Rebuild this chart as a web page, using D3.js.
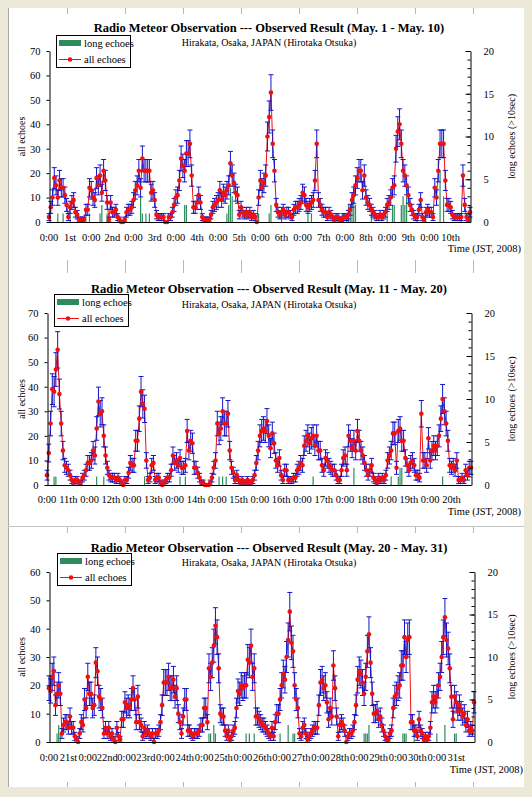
<!DOCTYPE html>
<html>
<head>
<meta charset="utf-8">
<script src="https://cdn.jsdelivr.net/npm/d3@7"></script>
<style>
  body { margin: 0; background: #ECE9D8; }
  svg { display: block; }
</style>
</head>
<body>
<script>
//==================================================================//
//  DATA (hourly counts)
//==================================================================//

var titleP1 = "Radio Meteor Observation --- Observed Result (May. 1 - May. 10)";
var titleP2 = "Radio Meteor Observation --- Observed Result (May. 11 - May. 20)";
var titleP3 = "Radio Meteor Observation --- Observed Result (May. 20 - May. 31)";
var subTitle = "Hirakata, Osaka, JAPAN (Hirotaka Otsuka)";

var daysP1 = ["1st","2nd","3rd","4th","5th","6th","7th","8th","9th","10th"];
var daysP2 = ["11th","12th","13th","14th","15th","16th","17th","18th","19th","20th"];
var daysP3 = ["21st","22nd","23rd","24th","25th","26th","27th","28th","29th","30th","31st"];

// all echoes, one value per hour
var allP1 = [
  2,6,10,18,15,10,17,14,14,11,7,2,6,8,9,4,3,1,1,1,1,5,5,14,
  13,10,9,18,15,19,12,21,17,8,1,8,4,4,5,2,1,0,0,1,4,5,5,6,
  9,13,15,21,14,26,21,21,21,21,12,13,9,3,2,2,2,2,0,0,2,2,4,7,
  10,11,17,26,23,21,28,28,32,19,6,6,8,11,8,2,1,1,1,1,3,6,7,8,
  9,13,9,12,11,13,15,24,19,16,12,11,3,6,4,3,4,3,4,2,3,2,0,10,
  17,14,16,19,35,43,53,32,21,7,4,3,4,5,3,4,4,3,2,5,6,6,7,8,
  12,11,7,6,7,8,9,17,32,9,7,5,4,4,2,4,3,2,1,2,2,1,1,2,
  2,2,3,5,9,11,15,18,21,21,13,19,10,8,7,5,4,3,2,2,3,2,3,4,
  7,8,10,14,15,30,37,40,32,21,19,15,11,7,5,3,2,2,5,9,2,1,4,5,
  4,4,2,14,10,21,32,32,32,17,7,7,6,3,2,2,2,2,2,19,7,2,1,4
];
var allP2 = [
  4,13,25,39,38,47,55,37,25,14,8,7,6,4,2,1,2,2,1,1,3,4,6,9,
  9,10,14,12,23,34,29,30,20,12,7,4,3,3,3,2,3,2,1,0,2,2,5,9,
  8,8,18,18,27,38,33,31,10,2,3,8,9,2,3,3,1,0,1,2,3,3,6,12,
  9,10,8,11,7,7,8,22,14,18,17,7,7,5,3,1,1,0,0,0,1,3,7,10,
  25,21,23,30,25,25,29,14,7,5,2,4,2,1,2,1,1,2,1,1,2,4,9,14,
  20,22,23,22,26,20,15,21,17,10,8,11,4,2,6,6,2,2,2,3,3,6,7,9,
  8,16,18,20,17,19,20,16,20,14,14,8,6,11,10,8,7,6,6,4,2,2,6,11,
  12,6,20,18,15,18,14,22,18,14,12,9,6,4,6,8,3,2,1,3,2,3,2,4,
  10,12,14,21,21,7,22,23,18,18,11,8,6,9,10,8,4,4,3,29,10,10,8,19,
  10,14,16,14,16,20,27,35,30,25,18,8,7,8,6,10,2,2,3,2,6,4,7,7
];
var allP3 = [
  19,18,23,25,13,17,20,17,3,6,7,7,5,9,5,5,2,1,0,3,7,6,15,12,
  23,17,17,12,13,28,25,16,15,12,3,5,3,5,2,3,1,0,5,2,1,8,8,14,
  12,13,12,15,19,15,7,16,7,6,2,5,3,4,3,2,3,0,3,3,4,7,13,21,
  21,21,23,19,19,22,16,19,10,7,3,9,15,15,4,4,3,2,3,3,3,4,6,6,
  12,12,7,26,23,28,34,41,37,26,10,9,9,4,2,4,1,2,4,5,12,18,17,20,
  19,20,20,29,28,34,23,26,9,9,8,7,6,6,5,4,3,2,5,2,7,10,10,15,
  20,24,22,30,36,46,35,32,20,15,12,3,2,5,6,3,1,2,3,4,5,5,5,13,
  21,22,19,20,14,8,12,9,27,19,9,2,6,7,6,4,0,2,3,3,4,7,13,22,
  25,24,21,17,23,32,38,28,17,10,10,11,8,9,6,4,2,1,1,3,4,12,16,17,
  19,20,27,27,37,30,36,37,7,7,4,4,2,8,4,3,1,2,1,2,5,14,16,14,
  16,20,23,30,37,44,36,33,26,16,8,16,14,11,13,11,9,10,6,8,4,5,4,14
];

// long echoes (>10sec): hour index and count, zero elsewhere
var longHoursP1 = [5,8,12,23,29,30,33,52,53,55,57,77,78,101,102,103,104,119,125,126,132,147,149,167,169,170,171,172,173,174,183,192,195,196,200,201,202,203,209,222,224,234,238,239];
var longCountsP1 = [1,1,1,1,1,2,1,3,1,1,1,2,2,1,2,4,3,1,1,2,1,1,1,1,1,2,1,3,4,2,1,1,2,2,2,3,2,3,1,6,3,1,1,2];
var longHoursP2 = [4,5,28,32,55,75,78,97,99,101,150,173,194,198,199,200,223];
var longCountsP2 = [1,1,1,1,1,1,1,1,1,1,1,2,1,1,2,2,1];
var longHoursP3 = [5,6,7,99,100,102,103,122,124,127,143,148,151,152,195,196,197,198,219,220,221,226,240,245,251,252];
var longCountsP3 = [1,2,1,1,1,2,1,1,1,1,1,2,1,1,1,1,1,2,1,1,1,2,1,2,1,1];

//==================================================================//
//  PAGE
//==================================================================//

var serif = "'Liberation Serif','Times New Roman',serif";
var RED = "#ee1111", BLUE = "#1414c8", GREEN = "#2e8b5c";

var svg = d3.select("body").append("svg")
    .attr("width", 532)
    .attr("height", 797);

// white sheet on the grey-beige window
svg.append("rect").attr("x", 8).attr("y", 8).attr("width", 516).attr("height", 779).attr("fill", "#fff");
svg.append("line").attr("x1", 8.5).attr("x2", 8.5).attr("y1", 8).attr("y2", 787).attr("stroke", "#a8a8a8");
svg.append("line").attr("x1", 8).attr("x2", 524).attr("y1", 526.5).attr("y2", 526.5).attr("stroke", "#c4c4c4");

// little ruler marks between the pictures
var rulerX = [67,125,183,241,299,357,415,473];
[[8,14],[260,273],[527,533],[782,787]].forEach(function(r) {
    svg.selectAll(null).data(rulerX).join("line")
        .attr("x1", function(d) { return d + 0.5; })
        .attr("x2", function(d) { return d + 0.5; })
        .attr("y1", r[0]).attr("y2", r[1])
        .attr("stroke", "#b8b8b8");
});

var panels = [
    { all: allP1, lh: longHoursP1, lc: longCountsP1, days: daysP1, title: titleP1, yMax: 70,
      left: 49, right: 470, top: 51, bottom: 222, titleY: 32, subY: 46, legX: 56, legY: 35,
      xLabY: 241, timeY: 252, timeX: 521 },
    { all: allP2, lh: longHoursP2, lc: longCountsP2, days: daysP2, title: titleP2, yMax: 70,
      left: 47, right: 471, top: 313, bottom: 485, titleY: 293, subY: 308, legX: 54, legY: 294,
      xLabY: 503, timeY: 515, timeX: 521 },
    { all: allP3, lh: longHoursP3, lc: longCountsP3, days: daysP3, title: titleP3, yMax: 60,
      left: 49, right: 474, top: 572, bottom: 742, titleY: 552, subY: 566, legX: 57, legY: 553,
      xLabY: 761, timeY: 773, timeX: 523 }
];

panels.forEach(drawPanel);

//==================================================================//
//  FUNCTIONS
//==================================================================//

function drawPanel(p) {
    var n = p.all.length;
    var x = d3.scaleLinear().domain([0, n - 1]).range([p.left, p.right]);
    var yL = d3.scaleLinear().domain([0, p.yMax]).range([p.bottom, p.top]);
    var yR = d3.scaleLinear().domain([0, 20]).range([p.bottom, p.top]);
    var g = svg.append("g").attr("font-family", serif);

    // titles
    g.append("text").attr("x", 269).attr("y", p.titleY)
        .attr("text-anchor", "middle").attr("font-size", 12.5).attr("font-weight", "bold")
        .text(p.title);
    g.append("text").attr("x", 269).attr("y", p.subY)
        .attr("text-anchor", "middle").attr("font-size", 10)
        .text(subTitle);

    // long echoes (right axis)
    var longData = p.lh.map(function(h, i) { return { h: h, c: p.lc[i] }; });
    g.selectAll(null).data(longData).join("line")
        .attr("x1", function(d) { return x(d.h); })
        .attr("x2", function(d) { return x(d.h); })
        .attr("y1", yR(0))
        .attr("y2", function(d) { return yR(d.c); })
        .attr("stroke", GREEN)
        .attr("stroke-width", 1.2);

    // all echoes line
    var line = d3.line()
        .x(function(d, i) { return x(i); })
        .y(function(d) { return yL(d); });
    g.append("path").datum(p.all)
        .attr("d", line)
        .attr("fill", "none")
        .attr("stroke", RED)
        .attr("stroke-width", 1);

    // error bars, +/- sqrt(N)
    var eb = g.append("g").attr("stroke", BLUE).attr("stroke-width", 1);
    p.all.forEach(function(v, i) {
        if (v <= 0) return;
        var e = Math.sqrt(v), cx = x(i);
        eb.append("line").attr("x1", cx).attr("x2", cx).attr("y1", yL(v - e)).attr("y2", yL(v + e));
        eb.append("line").attr("x1", cx - 2.5).attr("x2", cx + 2.5).attr("y1", yL(v + e)).attr("y2", yL(v + e));
        eb.append("line").attr("x1", cx - 2.5).attr("x2", cx + 2.5).attr("y1", yL(v - e)).attr("y2", yL(v - e));
    });

    // markers
    g.selectAll(null).data(p.all).join("circle")
        .attr("cx", function(d, i) { return x(i); })
        .attr("cy", function(d) { return yL(d); })
        .attr("r", 2.3)
        .attr("fill", RED);

    // x axis line
    g.append("line").attr("x1", p.left).attr("x2", p.right)
        .attr("y1", p.bottom + 0.5).attr("y2", p.bottom + 0.5)
        .attr("stroke", "#000");

    // left axis
    g.append("g")
        .attr("transform", "translate(" + (p.left + 0.5) + ",0)")
        .call(d3.axisLeft(yL).tickValues(d3.range(0, p.yMax + 1, 10)).tickSize(3).tickPadding(6).tickSizeOuter(0))
        .attr("font-family", serif).attr("font-size", 10.5)
        .call(function(a) { a.select(".domain").attr("stroke", "#000"); });

    // right axis, major and minor ticks
    g.append("g")
        .attr("transform", "translate(" + (p.right + 0.5) + ",0)")
        .call(d3.axisRight(yR).tickValues(d3.range(0, 21)).tickSize(-3).tickFormat("").tickSizeOuter(0));
    g.append("g")
        .attr("transform", "translate(" + (p.right + 0.5) + ",0)")
        .call(d3.axisRight(yR).tickValues([0, 5, 10, 15, 20]).tickSize(-5).tickPadding(13).tickSizeOuter(0))
        .attr("font-family", serif).attr("font-size", 10.5)
        .call(function(a) { a.select(".domain").remove(); });

    // category labels every 12 hours
    var labels = [];
    p.days.forEach(function(d) { labels.push("0:00"); labels.push(d); });
    g.selectAll(null).data(labels).join("text")
        .attr("x", function(d, i) { return x(12 * i); })
        .attr("y", p.xLabY)
        .attr("text-anchor", "middle")
        .attr("font-size", 10.5)
        .text(function(d) { return d; });

    g.append("text").attr("x", p.timeX).attr("y", p.timeY)
        .attr("text-anchor", "end").attr("font-size", 10.5)
        .text("Time (JST, 2008)");

    // axis titles
    var mid = (p.top + p.bottom) / 2;
    g.append("text")
        .attr("transform", "translate(25," + mid + ") rotate(-90)")
        .attr("text-anchor", "middle").attr("font-size", 10)
        .text("all echoes");
    g.append("text")
        .attr("transform", "translate(515," + mid + ") rotate(-90)")
        .attr("text-anchor", "middle").attr("font-size", 10)
        .text("long echoes (>10sec)");

    // legend
    var lg = g.append("g").attr("transform", "translate(" + p.legX + "," + p.legY + ")");
    lg.append("rect").attr("x", 0.5).attr("y", 0.5).attr("width", 74).attr("height", 32)
        .attr("fill", "#fff").attr("stroke", "#000");
    lg.append("rect").attr("x", 3).attr("y", 5).attr("width", 22).attr("height", 6).attr("fill", GREEN);
    lg.append("text").attr("x", 28).attr("y", 12).attr("font-size", 10.5).text("long echoes");
    lg.append("line").attr("x1", 3).attr("x2", 25).attr("y1", 24.5).attr("y2", 24.5)
        .attr("stroke", RED).attr("stroke-width", 1);
    lg.append("circle").attr("cx", 14).attr("cy", 24.5).attr("r", 2.3).attr("fill", RED);
    lg.append("text").attr("x", 28).attr("y", 28).attr("font-size", 10.5).text("all echoes");
}
</script>
</body>
</html>
